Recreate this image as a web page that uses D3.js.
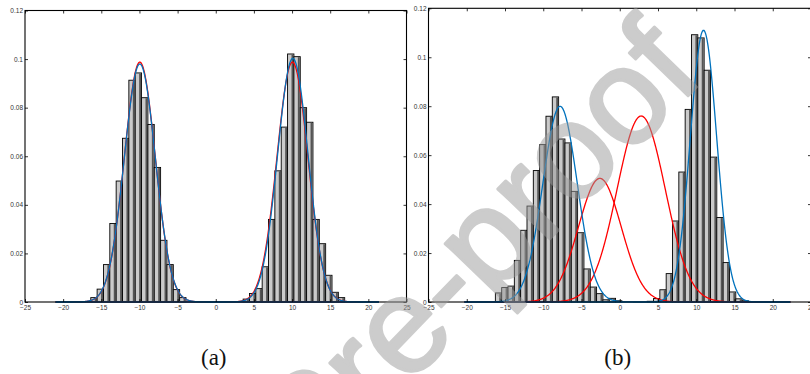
<!DOCTYPE html>
<html>
<head>
<meta charset="utf-8">
<script src="https://cdn.jsdelivr.net/npm/d3@7"></script>
<style>
  html, body { margin: 0; padding: 0; background: #fff; }
  svg { display: block; }
  .tick text { font-family: "Liberation Sans", Arial, sans-serif; font-size: 6.5px; fill: #333; }
</style>
</head>
<body>
<svg id="chart" width="810" height="374"></svg>
<script>
// Axis ticks shared by both panels
const xTicks = [-25, -20, -15, -10, -5, 0, 5, 10, 15, 20, 25];
const yTicks = [0, 0.02, 0.04, 0.06, 0.08, 0.1, 0.12];

// Panel (a): 40-bin histogram (density per bin)
const binStartA = -16.38;
const binWidthA = 0.832;
const densityA = [
    0.0018, 0.0053, 0.0154, 0.0323, 0.0498, 0.0674, 0.0913, 0.0943, 0.0841, 0.0731,
    0.0554, 0.0254, 0.0154, 0.0051, 0.0018, 0, 0, 0, 0, 0,
    0, 0, 0, 0, 0.0012, 0.0035, 0.0055, 0.0145, 0.0340, 0.0540,
    0.0720, 0.1021, 0.1010, 0.0800, 0.0740, 0.0340, 0.0240, 0.0110, 0.0040, 0.0018
];
// Panel (a): fitted components (red = true, blue = estimate)
const redMeanA = [-9.95, 10.05];
const redSdA = [2.02, 2.02];
const redWeightA = [0.5, 0.5];
const blueMeanA = [-9.95, 10.1];
const blueSdA = [2.03, 1.99];
const blueWeightA = [0.4987, 0.5003];
const curveDomainA = [-21.0, 21.4];

// Panel (b)
const binStartB = -16.26;
const binWidthB = 0.827;
const densityB = [
    0.0037, 0.0059, 0.0065, 0.0170, 0.0293, 0.0392, 0.0537, 0.0643, 0.0759, 0.0838,
    0.0666, 0.0650, 0.0452, 0.0283, 0.0135, 0.0061, 0.0034, 0.0009, 0.0015, 0.0005,
    0, 0, 0, 0, 0.0003, 0.0014, 0.0050, 0.0116, 0.0331, 0.0531,
    0.0787, 0.1092, 0.1079, 0.0947, 0.0592, 0.0345, 0.0161, 0.0041, 0.0013, 0.0005
];
const redMeanB = [-2.6, 2.8];
const redSdB = [2.8, 3.15];
const redWeightB = [0.3545, 0.600];
const blueMeanB = [-7.8, 10.95];
const blueSdB = [2.25, 1.72];
const blueWeightB = [0.451, 0.4786];
const curveDomainB = [-20.3, 22.3];

const svg = d3.select('#chart');

function gauss(x, m, s, w) {
    return w / (s * Math.sqrt(2 * Math.PI)) * Math.exp(-((x - m) * (x - m)) / (2 * s * s));
}

function drawPanel(p) {
    const xs = d3.scaleLinear().domain([-25, 25]).range([p.left, p.right]);
    const ys = d3.scaleLinear().domain([0, 0.12]).range([p.bottom, p.top]);
    const g = svg.append('g');

    // Histogram bars
    p.density.forEach((v, i) => {
        if (!v) return;
        const x0 = xs(p.binStart + i * p.binWidth);
        const x1 = xs(p.binStart + (i + 1) * p.binWidth);
        g.append('rect')
            .attr('x', x0).attr('y', ys(v))
            .attr('width', x1 - x0).attr('height', ys(0) - ys(v))
            .attr('fill', '#cacaca').attr('stroke', '#000').attr('stroke-width', 0.9);
        g.append('rect')
            .attr('x', x1 - 2.4).attr('y', ys(v) + 0.5)
            .attr('width', 1.9).attr('height', Math.max(0, ys(0) - ys(v) - 1))
            .attr('fill', '#555');
    });

    // Component curves
    const xsamp = d3.range(p.curveDomain[0], p.curveDomain[1], 0.05).concat([p.curveDomain[1]]);
    const line = d3.line().x(d => xs(d[0])).y(d => ys(d[1]));
    const drawComps = (means, sds, weights, color) => {
        means.forEach((m, k) => {
            const pts = xsamp.map(x => [x, gauss(x, m, sds[k], weights[k])]);
            g.append('path').datum(pts).attr('d', line)
                .attr('fill', 'none').attr('stroke', color).attr('stroke-width', 1.3);
        });
    };
    drawComps(p.redMean, p.redSd, p.redWeight, '#ff0000');
    drawComps(p.blueMean, p.blueSd, p.blueWeight, '#0072bd');

    // Axes with inward ticks on all four sides
    g.append('g').attr('transform', `translate(0,${p.bottom})`)
        .call(d3.axisBottom(xs).tickValues(xTicks).tickSize(-3).tickPadding(3)
            .tickFormat(d => d < 0 ? '\u2212' + Math.abs(d) : d))
        .call(a => a.select('.domain').remove());
    g.append('g').attr('transform', `translate(0,${p.top})`)
        .call(d3.axisTop(xs).tickValues(xTicks).tickSize(-3).tickFormat(''))
        .call(a => a.select('.domain').remove());
    g.append('g').attr('transform', `translate(${p.left},0)`)
        .call(d3.axisLeft(ys).tickValues(yTicks).tickSize(-3).tickPadding(2)
            .tickFormat(d => d === 0 ? '0' : String(+d.toFixed(2))))
        .call(a => a.select('.domain').remove());
    g.append('g').attr('transform', `translate(${p.right},0)`)
        .call(d3.axisRight(ys).tickValues(yTicks).tickSize(-3).tickFormat(''))
        .call(a => a.select('.domain').remove());
    g.selectAll('.tick line').attr('stroke', '#000').attr('stroke-width', 0.8);

    g.append('rect')
        .attr('x', p.left).attr('y', p.top)
        .attr('width', p.right - p.left).attr('height', p.bottom - p.top)
        .attr('fill', 'none').attr('stroke', '#000').attr('stroke-width', 1.1);

    // Sub-caption
    svg.append('text')
        .attr('x', (p.left + p.right) / 2 - 2).attr('y', 365)
        .attr('text-anchor', 'middle')
        .attr('font-family', '"Liberation Serif", "DejaVu Serif", serif')
        .attr('font-size', 23).attr('fill', '#111')
        .text(p.caption);
}

drawPanel({
    left: 25, right: 406.5, top: 10.5, bottom: 302,
    density: densityA, binStart: binStartA, binWidth: binWidthA,
    redMean: redMeanA, redSd: redSdA, redWeight: redWeightA,
    blueMean: blueMeanA, blueSd: blueSdA, blueWeight: blueWeightA,
    curveDomain: curveDomainA, caption: '(a)'
});
drawPanel({
    left: 428.5, right: 811, top: 8.3, bottom: 302,
    density: densityB, binStart: binStartB, binWidth: binWidthB,
    redMean: redMeanB, redSd: redSdB, redWeight: redWeightB,
    blueMean: blueMeanB, blueSd: blueSdB, blueWeight: blueWeightB,
    curveDomain: curveDomainB, caption: '(b)'
});

// Watermark (group opacity so fill and stroke blend once)
svg.append('g').attr('opacity', 0.5)
    .append('text')
    .attr('transform', 'translate(706,77) rotate(-46)')
    .attr('text-anchor', 'end')
    .attr('font-family', '"Liberation Sans", Arial, sans-serif')
    .attr('font-size', 136)
    .attr('fill', '#9a9a9a')
    .attr('stroke', '#9a9a9a').attr('stroke-width', 3).attr('stroke-linejoin', 'round')
    .text('Journal Pre-proof');
</script>
</body>
</html>
